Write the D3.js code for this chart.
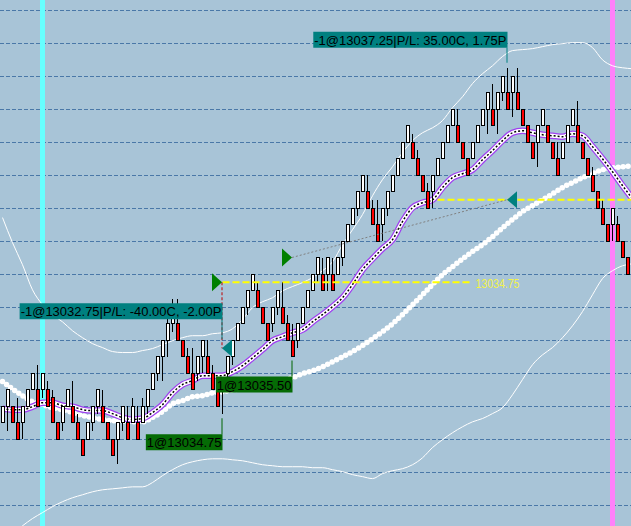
<!DOCTYPE html>
<html>
<head>
<meta charset="utf-8">
<script src="https://cdnjs.cloudflare.com/ajax/libs/d3/7.8.5/d3.min.js"></script>
<style>
body { margin: 0; background: #a8c4d7; }
svg { display: block; }
</style>
</head>
<body>
<div id="chart"></div>
<script>
const width = 631, height = 526;

// price bars, one every 5px
const opens = [13030.5,13031,13031,13030.5,13030.5,13031,13031.5,13031.5,13031.5,13031.5,
  13031.25,13030.5,13030.5,13031,13031,13030.5,13030,13030,13030.5,13031,
  13031,13030.5,13030,13030,13030.5,13030.5,13030.5,13030.5,13030.5,13031,
  13031.5,13032,13032.5,13033,13033.5,13033.5,13033,13032.5,13032,13032,
  13032.5,13032.5,13032,13031.5,13031.75,13032,13032.5,13033,13033.5,13034,
  13034.5,13034.5,13034,13033.5,13033.5,13034,13034,13033.5,13033,13033,
  13033.5,13034,13034.5,13035,13035,13035,13035,13035,13035.5,13036,
  13036.5,13037,13037.5,13037.5,13037,13036.5,13036.5,13037,13037.5,13038,
  13038.5,13039,13039,13038.5,13038,13037.5,13037.5,13038,13038.5,13039,
  13039.5,13039.5,13039,13038.5,13038.5,13039,13039.5,13040,13040,13040,
  13040.5,13040.5,13040.5,13040.5,13040,13039.5,13039,13039,13039.5,13039.5,
  13039,13038.5,13038.5,13039,13039.5,13039.5,13039,13038.5,13038,13037.5,
  13037,13036.5,13036.5,13036.5,13036,13035.5];
const closes = [13031,13031.5,13030.5,13030,13031,13031.5,13032,13031,13032,13031,
  13030.5,13030,13031,13031.5,13030.5,13030,13029.5,13030.5,13031,13031.5,
  13030.5,13030,13029.5,13030.5,13031,13030,13031,13030,13031,13031.5,
  13032,13032.5,13033,13033.5,13033.75,13033,13032.5,13032,13031.5,13032.5,
  13033,13032,13031.5,13031,13031.5,13032.5,13033,13033.5,13034,13034.5,
  13035,13034,13033.5,13033,13034,13034.5,13033.5,13033,13032.5,13033.5,
  13034,13034.5,13035,13035.5,13034.5,13035.5,13034.5,13035.5,13036,13036.5,
  13037,13037.5,13038,13037,13036.5,13036,13037,13037.5,13038,13038.5,
  13039,13039.5,13038.5,13038,13037.5,13037,13038,13038.5,13039,13039.5,
  13040,13039,13038.5,13038,13039,13039.5,13040,13040.5,13039.5,13040.5,
  13041,13040,13041,13040,13039.5,13039,13038.5,13039.5,13040,13039,
  13038.5,13038,13039,13039.5,13040,13039,13038.5,13038,13037.5,13037,
  13036.5,13036,13037,13036,13035.5,13035];
const highs = [13031,13031.5,13031,13031.25,13031,13031.5,13032,13032.25,13032,13031.75,
  13031.5,13030.5,13031,13031.5,13031.75,13030.75,13030,13030.5,13031,13031.5,
  13031.5,13030.5,13030,13030.5,13031,13031,13031.25,13031,13031.25,13031.5,
  13032,13032.5,13033,13033.75,13034.25,13034.25,13033,13032.75,13032.75,13032.5,
  13033,13033,13032.25,13031.5,13031.75,13032.5,13033,13033.5,13034,13034.5,
  13035,13034.75,13034,13033.5,13034,13034.5,13034.75,13033.75,13033.5,13033.5,
  13034,13034.5,13035,13035.5,13035.5,13035.5,13035.5,13035.5,13036,13036.5,
  13037,13037.5,13038,13038,13037.25,13037.25,13037,13037.5,13038,13038.5,
  13039,13039.5,13039.25,13038.75,13038,13037.75,13038,13038.5,13039,13039.5,
  13040,13040,13039,13038.5,13039,13039.5,13040,13040.5,13040.75,13040.5,
  13041,13041.25,13041,13041.25,13040,13039.5,13039,13039.5,13040,13039.5,
  13039,13039,13039,13039.5,13040,13040.25,13039,13038.5,13038.25,13037.5,
  13037.25,13036.5,13037,13036.75,13036,13035.5];
const lows = [13030.5,13030.25,13030.5,13030,13030,13031,13031.5,13031,13031.25,13031,
  13030.5,13030,13030.25,13031,13030.5,13030,13029.5,13030,13030.25,13030.75,
  13030.5,13030,13029.5,13029.25,13030.25,13030,13030.5,13030,13030.5,13030.75,
  13031.5,13031.75,13031.75,13032.5,13033.25,13033,13032.5,13032,13031.5,13031.75,
  13032,13032,13031.5,13031,13030.75,13031.75,13032.25,13033,13033.5,13033.75,
  13034.5,13034,13033.5,13033,13033.25,13033.75,13033.5,13033,13032.5,13032.75,
  13033.5,13034,13034.5,13034.75,13034.5,13034.5,13034.5,13035,13035.25,13036,
  13036.5,13036.75,13037.5,13037,13036.5,13036,13036,13036.75,13037.5,13038,
  13038.5,13039,13038.5,13038,13037.5,13037,13037,13038,13038.5,13039,
  13039.5,13039,13038.5,13038,13038.5,13039,13039.5,13039.25,13039.5,13039.25,
  13040.25,13040,13039.75,13040,13039.5,13039,13038.5,13038.25,13039.5,13039,
  13038.5,13038,13038.5,13039,13039.5,13039,13038.5,13038,13037.5,13037,
  13036.5,13036,13036,13036,13035.5,13035];

// indicator readings, every second bar
const sampleBars = d3.range(0, 127, 2);
const upperBand = [13036.71,13035.95,13035.28,13034.52,13034.07,13033.77,13033.55,13033.28,13033.07,13032.89,
  13032.77,13032.65,13032.62,13032.62,13032.68,13032.74,13032.86,13032.98,13033.07,13033.13,
  13033.13,13033.19,13033.22,13033.34,13033.62,13033.98,13034.16,13034.28,13034.49,13034.62,
  13034.74,13034.89,13035.10,13035.37,13035.89,13036.34,13036.80,13037.37,13037.86,13038.25,
  13038.68,13039.04,13039.28,13039.43,13039.65,13040.04,13040.37,13040.77,13041.07,13041.31,
  13041.59,13041.77,13041.80,13041.83,13041.89,13041.95,13041.98,13042.01,13042.01,13041.86,
  13041.49,13041.31,13041.25,13041.22];
const lowerBand = [13026.95,13027.13,13027.37,13027.59,13027.77,13027.95,13028.10,13028.22,13028.31,13028.40,
  13028.46,13028.49,13028.52,13028.55,13028.55,13028.68,13028.89,13029.07,13029.22,13029.31,
  13029.37,13029.40,13029.40,13029.37,13029.34,13029.28,13029.22,13029.19,13029.16,13029.16,
  13029.16,13029.13,13029.13,13029.07,13029.01,13028.92,13028.86,13028.80,13028.95,13029.04,
  13029.10,13029.22,13029.43,13029.74,13029.98,13030.19,13030.37,13030.52,13030.62,13030.77,
  13030.95,13031.34,13031.80,13032.25,13032.55,13032.77,13033.07,13033.43,13033.86,13034.37,
  13034.86,13035.10,13035.25,13035.31];
const fastAvg = [13030.92,13030.89,13030.89,13030.98,13031.10,13031.10,13031.01,13030.98,13030.89,13030.86,
  13030.86,13030.77,13030.65,13030.59,13030.62,13030.80,13031.04,13031.40,13031.65,13031.77,
  13031.92,13031.92,13031.92,13032.04,13032.22,13032.46,13032.71,13032.98,13033.10,13033.22,
  13033.31,13033.55,13033.77,13034.01,13034.28,13034.68,13035.13,13035.46,13035.77,13036.04,
  13036.59,13037.01,13037.16,13037.25,13037.62,13037.92,13038.04,13038.16,13038.46,13038.74,
  13039.04,13039.28,13039.34,13039.28,13039.22,13039.19,13039.16,13039.25,13039.19,13038.86,
  13038.49,13038.10,13037.68,13037.28];
const slowAvg = [13031.74,13031.52,13031.31,13031.13,13031.04,13030.95,13030.89,13030.80,13030.71,13030.65,
  13030.59,13030.55,13030.55,13030.52,13030.52,13030.65,13030.83,13031.07,13031.16,13031.28,
  13031.31,13031.40,13031.43,13031.49,13031.52,13031.58,13031.62,13031.68,13031.77,13031.86,
  13031.98,13032.07,13032.19,13032.34,13032.49,13032.65,13032.83,13033.04,13033.25,13033.49,
  13033.77,13034.07,13034.37,13034.68,13034.98,13035.22,13035.46,13035.68,13035.89,13036.13,
  13036.40,13036.65,13036.89,13037.07,13037.25,13037.43,13037.62,13037.77,13037.92,13038.04,
  13038.16,13038.22,13038.25,13038.28];

// session marker lines
const sessionBars = [8, 122];
const sessionColors = ["#66ffff", "#ff80fa"];

// executions
const entryBars = [44, 58];
const entryPrices = [13034.75, 13035.50];
const entryQty = [1, 1];
const exitBars = [44, 101];
const exitPrices = [13032.75, 13037.25];
const exitLabels = ["-1@13032.75|P/L: -40.00C, -2.00P", "-1@13037.25|P/L: 35.00C, 1.75P"];
const exitLift = [5, 0];

// horizontal price lines
const lineLevels = [13034.75, 13037.25];
const lineFrom = [44, 87];
const lineTo = [94, 127];
const lineText = ["13034.75", ""];

const svg = d3.select("#chart").append("svg")
    .attr("width", width)
    .attr("height", height);

svg.append("rect").attr("width", width).attr("height", height).attr("fill", "#a8c4d7");

var x = d3.scaleLinear().domain([0, 126]).range([2.5, 632.5]);
var y = d3.scaleLinear().domain([13028, 13043]).range([505, 10]);

// dashed grid
var grid = svg.append("g")
    .call(d3.axisRight(y).ticks(16).tickSize(width).tickFormat(""));
grid.select(".domain").remove();
grid.selectAll(".tick line")
    .attr("stroke", "#4a78a8")
    .attr("stroke-dasharray", "4,2");

svg.append("g").selectAll("rect")
    .data(sessionBars)
    .join("rect")
    .attr("x", d => x(d) - 2.5)
    .attr("y", 0)
    .attr("width", 5)
    .attr("height", height)
    .attr("fill", (d, k) => sessionColors[k]);

var line = d3.line()
    .x(d => x(d[0]))
    .y(d => y(d[1]))
    .curve(d3.curveMonotoneX);
var pts = vals => sampleBars.map((b, k) => [b, vals[k]]);

// bollinger
[upperBand, lowerBand].forEach(function (v) {
    svg.append("path")
        .attr("d", line(pts(v)))
        .attr("fill", "none")
        .attr("stroke", "#ffffff")
        .attr("stroke-width", 1);
});

// slow average, dotted
svg.append("path")
    .attr("d", line(pts(slowAvg)))
    .attr("fill", "none")
    .attr("stroke", "#ffffff")
    .attr("stroke-width", 5.5)
    .attr("stroke-linecap", "round")
    .attr("stroke-dasharray", "0,5");

// fast average
var fastPath = line(pts(fastAvg));
svg.append("path").attr("d", fastPath).attr("fill", "none")
    .attr("stroke", "#a040f0").attr("stroke-width", 6.5);
svg.append("path").attr("d", fastPath).attr("fill", "none")
    .attr("stroke", "#ffffff").attr("stroke-width", 4);
svg.append("path").attr("d", fastPath).attr("fill", "none")
    .attr("stroke", "#000000").attr("stroke-width", 1.5).attr("stroke-dasharray", "2,2");

// candles
var bars = d3.range(opens.length);
var cg = svg.append("g").attr("shape-rendering", "crispEdges");
cg.selectAll("line")
    .data(bars)
    .join("line")
    .attr("x1", i => x(i)).attr("x2", i => x(i))
    .attr("y1", i => y(highs[i])).attr("y2", i => y(lows[i]))
    .attr("stroke", "#000");
cg.selectAll("rect")
    .data(bars)
    .join("rect")
    .attr("x", i => x(i) - 1.5)
    .attr("y", i => y(Math.max(opens[i], closes[i])))
    .attr("width", 3)
    .attr("height", i => Math.max(1, Math.abs(y(opens[i]) - y(closes[i]))))
    .attr("fill", i => closes[i] >= opens[i] ? "#ffffff" : "#ff0000")
    .attr("stroke", "#000");

// price lines
lineLevels.forEach(function (p, k) {
    svg.append("line")
        .attr("x1", x(lineFrom[k])).attr("x2", x(lineTo[k]))
        .attr("y1", y(p)).attr("y2", y(p))
        .attr("stroke", "#ffff00")
        .attr("stroke-width", 2)
        .attr("stroke-dasharray", "7,3");
    if (lineText[k]) {
        svg.append("text")
            .attr("x", x(lineTo[k]) + 3)
            .attr("y", y(p) + 5.5)
            .attr("font-family", "'Liberation Sans Narrow', 'Arial Narrow', 'Liberation Sans', sans-serif")
            .attr("font-size", 13)
            .attr("textLength", 44)
            .attr("lengthAdjust", "spacingAndGlyphs")
            .attr("fill", "#f2f24a")
            .text(lineText[k]);
    }
});

// trade connectors
entryBars.forEach(function (b, k) {
    var x1 = x(b) - 0.5, y1 = y(entryPrices[k]);
    var x2 = x(exitBars[k]) - 0.5, y2 = y(exitPrices[k]);
    var loss = exitPrices[k] < entryPrices[k];
    svg.append("line")
        .attr("x1", x1).attr("y1", y1).attr("x2", x2).attr("y2", y2)
        .attr("stroke", loss ? "#c00000" : "#808080")
        .attr("stroke-width", 1)
        .attr("stroke-dasharray", loss ? "3,2" : "2,2");
});

var font = "'Liberation Sans', Arial, sans-serif";

function tag(right, top, text, fill) {
    var g = svg.append("g");
    var box = g.append("rect").attr("fill", fill);
    var t = g.append("text")
        .attr("x", right - 1)
        .attr("y", top + 13)
        .attr("text-anchor", "end")
        .attr("font-family", font)
        .attr("font-size", 13)
        .attr("fill", "#000")
        .text(text);
    var w = t.node().getComputedTextLength() + 2;
    box.attr("x", right - w).attr("y", top).attr("width", w).attr("height", 16);
}

// entry markers and labels
entryBars.forEach(function (b, k) {
    var tx = x(b) - 0.5, ty = y(entryPrices[k]);
    svg.append("path")
        .attr("d", `M${tx},${ty} L${tx - 10},${ty - 9} L${tx - 10},${ty + 9} Z`)
        .attr("fill", "#008000");
    var lowY = y(lows[b]);
    svg.append("line")
        .attr("x1", tx).attr("x2", tx)
        .attr("y1", lowY + 4).attr("y2", lowY + 20)
        .attr("stroke", "#006400");
    tag(x(b), lowY + 20, entryQty[k] + "@" + entryPrices[k].toFixed(2), "#056b05");
});

// exit markers and labels
exitBars.forEach(function (b, k) {
    var tx = x(b) - 0.5, ty = y(exitPrices[k]);
    var end = Math.min(y(highs[b]) - 5, ty - 9);
    svg.append("line")
        .attr("x1", tx).attr("x2", tx)
        .attr("y1", end - 15 - exitLift[k]).attr("y2", end)
        .attr("stroke", "#008080");
    svg.append("path")
        .attr("d", `M${tx},${ty} L${tx + 10},${ty - 8.5} L${tx + 10},${ty + 8.5} Z`)
        .attr("fill", "#008080");
    tag(x(b), end - 31 - exitLift[k], exitLabels[k], "#008080");
});
</script>
</body>
</html>
